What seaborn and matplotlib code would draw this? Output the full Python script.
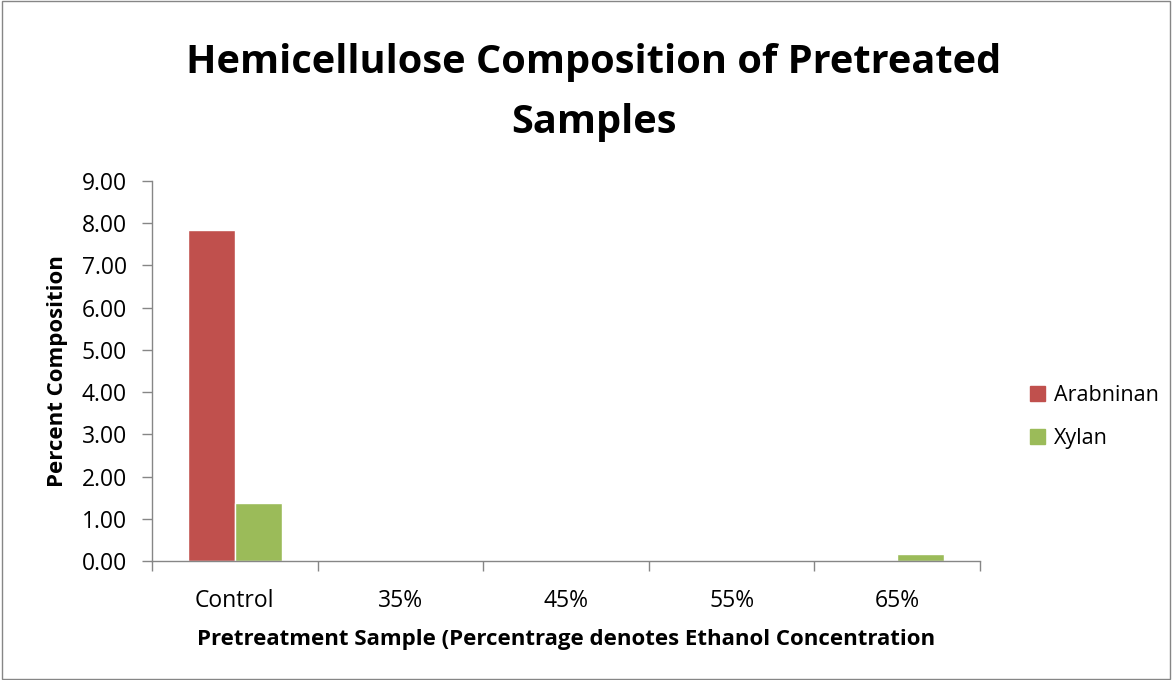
import matplotlib
matplotlib.use("Agg")
import matplotlib.pyplot as plt
import seaborn as sns
import pandas as pd
from matplotlib.patches import Rectangle

categories = ["Control", "35%", "45%", "55%", "65%"]
arabinan = [7.84, 0.0, 0.0, 0.0, 0.0]
xylan = [1.37, 0.01, 0.01, 0.01, 0.17]
series_names = ["Arabninan", "Xylan"]
colors = ["#C0504D", "#9BBB59"]

df = pd.DataFrame({
    "Sample": categories * 2,
    "Value": arabinan + xylan,
    "Series": [series_names[0]] * len(categories) + [series_names[1]] * len(categories),
})

sns.set_style("white")
plt.rcParams["font.family"] = ["Open Sans", "DejaVu Sans"]
plt.rcParams["xtick.bottom"] = True
plt.rcParams["ytick.left"] = True

fig = plt.figure(figsize=(11.72, 6.8), dpi=100)
ax = fig.add_axes([152/1172, 1-561/680, (980-152)/1172, (561-181)/680])

sns.barplot(data=df, x="Sample", y="Value", hue="Series", palette=colors,
            width=0.57, gap=0, ax=ax, legend=False, saturation=1)

ax.set_ylim(0, 9)
ax.set_xlim(-0.5, 4.5)
ax.set_yticks([i for i in range(10)])
ax.set_yticklabels([f"{i:.2f}" for i in range(10)], fontsize=16.5, color="black")
ax.set_xticks(range(5))
ax.set_xticklabels(categories, fontsize=16.5, color="black")
ax.set_xticks([i - 0.5 for i in range(6)], minor=True)
ax.tick_params(axis="x", which="major", bottom=False, length=0, pad=20)
ax.tick_params(axis="x", which="minor", bottom=True, length=7, color="#868686", width=1, direction="out")
ax.tick_params(axis="y", left=True, length=7, color="#868686", width=1, direction="out", pad=11)
for s in ["top", "right"]:
    ax.spines[s].set_visible(False)
for s in ["left", "bottom"]:
    ax.spines[s].set_color("#868686")
    ax.spines[s].set_linewidth(1)

ax.set_xlabel("Pretreatment Sample (Percentrage denotes Ethanol Concentration",
              fontsize=16, fontweight="bold", labelpad=12, color="black")
ax.set_ylabel("Percent Composition", fontsize=16, fontweight="bold", labelpad=10, color="black")

fig.text(594/1172, 1 - 62/680, "Hemicellulose Composition of Pretreated", fontsize=28.6,
         fontweight="bold", ha="center", va="center", color="black")
fig.text(594/1172, 1 - 122/680, "Samples", fontsize=28.6,
         fontweight="bold", ha="center", va="center", color="black")

handles = [Rectangle((0, 0), 1, 1, color=c) for c in colors]
fig.legend(handles, series_names, loc="center left", bbox_to_anchor=(0.862, 0.387),
           frameon=False, fontsize=15.5, handlelength=0.7, handleheight=0.7,
           labelspacing=1.0, handletextpad=0.45, labelcolor="black")

fig.patches.append(Rectangle((0.002, 0.002), 0.996, 0.996, transform=fig.transFigure,
                             fill=False, edgecolor="#868686", linewidth=1))

fig.savefig("out.png", dpi=100)
